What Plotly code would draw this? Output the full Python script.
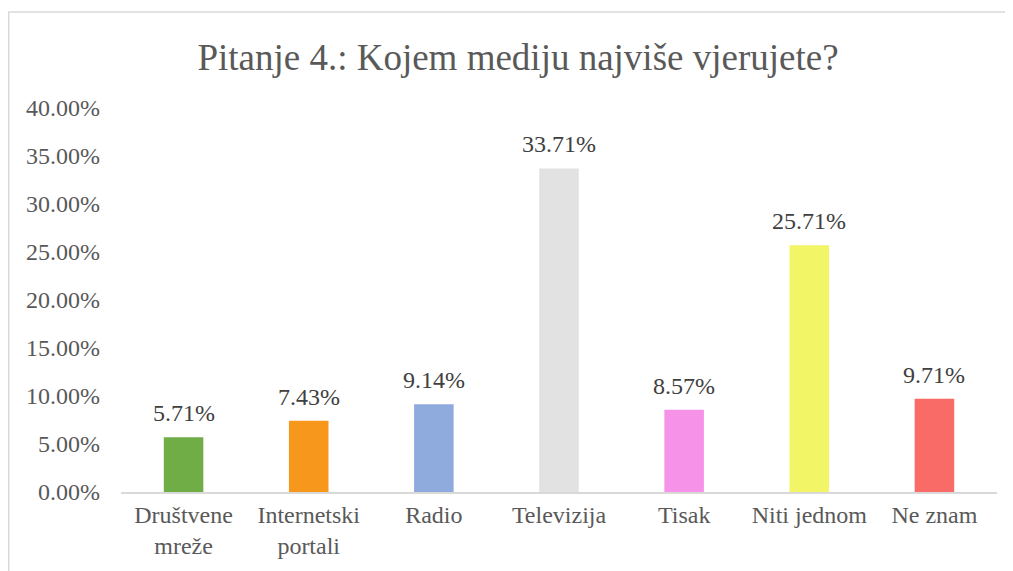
import plotly.graph_objects as go

categories = ["Društvene<br>mreže", "Internetski<br>portali", "Radio", "Televizija", "Tisak", "Niti jednom", "Ne znam"]
values = [0.0571, 0.0743, 0.0914, 0.3371, 0.0857, 0.2571, 0.0971]
colors = ["#70AD47", "#F7981D", "#8FAADC", "#E2E2E2", "#F792E9", "#F2F566", "#F86B66"]
tick_vals = [0, 0.05, 0.10, 0.15, 0.20, 0.25, 0.30, 0.35, 0.40]
title_text = "Pitanje 4.: Kojem mediju najviše vjerujete?"

FONT = "'Times New Roman', 'Liberation Serif', 'DejaVu Serif', serif"

fig = go.Figure()
fig.add_trace(go.Bar(
    x=categories, y=values, marker=dict(color=colors, line=dict(width=0)),
    hoverinfo="skip",
))

for c, v in zip(categories, values):
    fig.add_annotation(
        x=c, y=v, xref="x", yref="y", text=f"{v*100:.2f}%", showarrow=False,
        yanchor="bottom", yshift=9, font=dict(family=FONT, size=24, color="#404040"),
    )

L, R, T, B = 113, 24, 100, 87
W, H = 1013, 571
pw, ph = W - L - R, H - T - B

def px_x(x):
    return (x - L) / pw

def px_y(y):
    return (H - B - y) / ph

fig.add_shape(type="line", xref="paper", yref="paper",
              x0=px_x(0), x1=px_x(1030), y0=px_y(4), y1=px_y(4),
              line=dict(color="#D9D9D9", width=1.5))
fig.add_shape(type="line", xref="paper", yref="paper",
              x0=px_x(0.75), x1=px_x(0.75), y0=px_y(4), y1=px_y(600),
              line=dict(color="#D9D9D9", width=1.5))

fig.update_layout(
    width=W, height=H,
    margin=dict(l=L, r=R, t=T, b=B),
    paper_bgcolor="white", plot_bgcolor="white",
    bargap=0.684,
    showlegend=False,
    font=dict(family=FONT),
    title=dict(text=title_text, x=510 / W, xanchor="center", xref="container",
               y=1 - 49 / H, yanchor="middle", yref="container",
               font=dict(family=FONT, size=37, color="#595959")),
    xaxis=dict(
        showline=True, linecolor="#D9D9D9", linewidth=1.5,
        showgrid=False, ticks="", zeroline=False,
        tickfont=dict(family=FONT, size=24, color="#595959"),
    ),
    yaxis=dict(
        range=[0, 0.40], tickvals=tick_vals, tickformat=".2%",
        showgrid=False, zeroline=False, showline=False, ticks="",
        ticklabelstandoff=20,
        tickfont=dict(family=FONT, size=24, color="#595959"),
    ),
)

fig.write_html("out.html")
